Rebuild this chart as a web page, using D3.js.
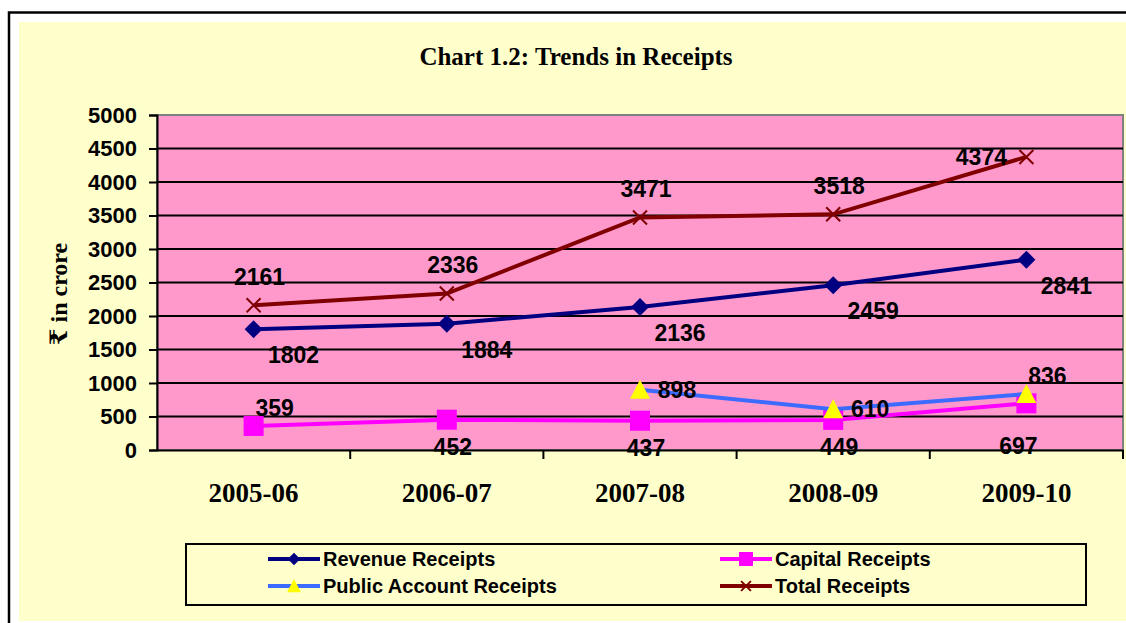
<!DOCTYPE html>
<html>
<head>
<meta charset="utf-8">
<script src="https://cdn.jsdelivr.net/npm/d3@7"></script>
<style>
    body { margin: 0; background: #ffffff; }
    svg { display: block; }
</style>
</head>
<body>
<div id="chart"></div>
<script>
// Chart data
const years = ["2005-06", "2006-07", "2007-08", "2008-09", "2009-10"];
const revenueReceipts = [1802, 1884, 2136, 2459, 2841];
const capitalReceipts = [359, 452, 437, 449, 697];
const publicAccountReceipts = [null, null, 898, 610, 836];
const totalReceipts = [2161, 2336, 3471, 3518, 4374];
const yTicks = [0, 500, 1000, 1500, 2000, 2500, 3000, 3500, 4000, 4500, 5000];

// where each data label sits relative to its point
const revenueLabelPos = ["belowRight", "belowRight", "belowRight", "belowRight", "belowRight"];
const capitalLabelPos = ["aboveRight", "below", "below", "below", "belowFar"];
const publicLabelPos = [null, null, "right", "right", "aboveRight"];
const totalLabelPos = ["above", "above", "above", "above", "left"];

const labelOffsets = {
    belowRight: [40, 26],
    aboveRight: [21, -18],
    right: [37, 0],
    above: [6, -28],
    below: [6, 27],
    belowFar: [-8, 43],
    left: [-45, 0]
};

const series = [
    { name: "Revenue Receipts", values: revenueReceipts, color: "#000080", marker: "diamond", labels: revenueLabelPos },
    { name: "Capital Receipts", values: capitalReceipts, color: "#FF00FF", marker: "square", labels: capitalLabelPos },
    { name: "Public Account Receipts", values: publicAccountReceipts, color: "#3D6BFF", marker: "triangle", labels: publicLabelPos },
    { name: "Total Receipts", values: totalReceipts, color: "#800000", marker: "cross", labels: totalLabelPos }
];

const width = 1126, height = 623;
const plot = { left: 157, top: 115, right: 1123, bottom: 450 };

const svg = d3.select("#chart").append("svg")
    .attr("width", width)
    .attr("height", height);

// outer frame and chart area
svg.append("rect")
    .attr("x", 9).attr("y", 12.5)
    .attr("width", width + 20).attr("height", height + 20)
    .attr("fill", "none").attr("stroke", "#000").attr("stroke-width", 2.5);
svg.append("rect")
    .attr("x", 19).attr("y", 22)
    .attr("width", width).attr("height", 599)
    .attr("fill", "#FFFFCC");

// title
svg.append("text")
    .attr("x", 576).attr("y", 65)
    .attr("text-anchor", "middle")
    .style("font-family", "'Liberation Serif', 'Times New Roman', serif")
    .style("font-weight", "bold")
    .style("font-size", "25px")
    .text("Chart 1.2: Trends in Receipts");

// Scales
const x = d3.scaleBand()
    .domain(years)
    .range([plot.left, plot.right]);

const y = d3.scaleLinear()
    .domain([0, 5000])
    .range([plot.bottom, plot.top]);

// plot background
svg.append("rect")
    .attr("x", plot.left).attr("y", plot.top)
    .attr("width", plot.right - plot.left).attr("height", plot.bottom - plot.top)
    .attr("fill", "#FF99CC")
    .attr("stroke", "#808080").attr("stroke-width", 2);

// gridlines
svg.append("g")
    .selectAll("line")
    .data(yTicks.filter(d => d > 0 && d < 5000))
    .enter()
    .append("line")
    .attr("x1", plot.left).attr("x2", plot.right)
    .attr("y1", d => y(d)).attr("y2", d => y(d))
    .attr("stroke", "#000").attr("stroke-width", 2);

// Y axis
const yAxis = svg.append("g")
    .attr("transform", `translate(${plot.left},0)`)
    .call(d3.axisLeft(y).tickValues(yTicks).tickSize(8).tickPadding(12).tickFormat(d3.format("d")));
yAxis.select(".domain").attr("stroke", "#000").attr("stroke-width", 2);
yAxis.selectAll(".tick line").attr("stroke", "#000").attr("stroke-width", 2);
yAxis.selectAll("text")
    .attr("fill", "#000")
    .style("font-family", "'Liberation Sans', Arial, sans-serif")
    .style("font-weight", "bold")
    .style("font-size", "22px");

// X axis
const xAxis = svg.append("g")
    .attr("transform", `translate(0,${plot.bottom})`)
    .call(d3.axisBottom(x).tickSize(0).tickPadding(33));
xAxis.select(".domain").attr("stroke", "#000").attr("stroke-width", 2);
xAxis.selectAll("text")
    .attr("fill", "#000")
    .style("font-family", "'Liberation Serif', 'Times New Roman', serif")
    .style("font-weight", "bold")
    .style("font-size", "27px");

// x tick marks on band edges
svg.append("g")
    .selectAll("line")
    .data(years)
    .enter()
    .append("line")
    .attr("x1", d => x(d) + x.bandwidth()).attr("x2", d => x(d) + x.bandwidth())
    .attr("y1", plot.bottom).attr("y2", plot.bottom + 9)
    .attr("stroke", "#000").attr("stroke-width", 2);

// Y axis title
svg.append("text")
    .attr("transform", "translate(67,294) rotate(-90)")
    .attr("text-anchor", "middle")
    .style("font-family", "'Liberation Serif', 'DejaVu Serif', serif")
    .style("font-weight", "bold")
    .style("font-size", "24px")
    .text("₹ in crore");

const cx = d => x(d) + x.bandwidth() / 2;

function drawMarker(g, type, color, scale) {
    const s = scale || 1;
    if (type === "diamond") {
        g.append("path")
            .attr("d", `M0,${-9 * s}L${9 * s},0L0,${9 * s}L${-9 * s},0Z`)
            .attr("fill", color);
    } else if (type === "square") {
        g.append("rect")
            .attr("x", -10 * s).attr("y", -10 * s)
            .attr("width", 20 * s).attr("height", 20 * s)
            .attr("fill", color);
    } else if (type === "triangle") {
        g.append("path")
            .attr("d", `M0,${-10 * s}L${10 * s},${9 * s}L${-10 * s},${9 * s}Z`)
            .attr("fill", "#FFFF00");
    } else if (type === "cross") {
        g.append("path")
            .attr("d", `M${-7 * s},${-7 * s}L${7 * s},${7 * s}M${7 * s},${-7 * s}L${-7 * s},${7 * s}`)
            .attr("stroke", color).attr("stroke-width", 2);
    }
}

const line = d3.line()
    .defined(d => d.v !== null)
    .x(d => cx(d.year))
    .y(d => y(d.v));

series.forEach(s => {
    const pts = years.map((yr, i) => ({ year: yr, v: s.values[i], pos: s.labels[i] }));

    svg.append("path")
        .datum(pts)
        .attr("d", line)
        .attr("fill", "none")
        .attr("stroke", s.color)
        .attr("stroke-width", 4);

    pts.filter(p => p.v !== null).forEach(p => {
        const g = svg.append("g").attr("transform", `translate(${cx(p.year)},${y(p.v)})`);
        drawMarker(g, s.marker, s.color);
    });
});

// data labels drawn on top
series.forEach(s => {
    const pts = years.map((yr, i) => ({ year: yr, v: s.values[i], pos: s.labels[i] }))
        .filter(p => p.v !== null);
    svg.append("g")
        .selectAll("text")
        .data(pts)
        .enter()
        .append("text")
        .attr("x", p => cx(p.year) + labelOffsets[p.pos][0])
        .attr("y", p => y(p.v) + labelOffsets[p.pos][1])
        .attr("text-anchor", "middle")
        .attr("dominant-baseline", "central")
        .style("font-family", "'Liberation Sans', Arial, sans-serif")
        .style("font-weight", "bold")
        .style("font-size", "23px")
        .text(p => p.v);
});

// Legend
const legend = svg.append("g");
legend.append("rect")
    .attr("x", 186).attr("y", 544)
    .attr("width", 900).attr("height", 61)
    .attr("fill", "#FFFFCC")
    .attr("stroke", "#000").attr("stroke-width", 2);

const legendCols = [268, 720];
const legendRows = [559, 586];
series.forEach((s, i) => {
    const lx = legendCols[i % 2];
    const ly = legendRows[Math.floor(i / 2)];
    legend.append("line")
        .attr("x1", lx).attr("x2", lx + 52)
        .attr("y1", ly).attr("y2", ly)
        .attr("stroke", s.color).attr("stroke-width", 4);
    const g = legend.append("g").attr("transform", `translate(${lx + 26},${ly})`);
    drawMarker(g, s.marker, s.color, 0.7);
    legend.append("text")
        .attr("x", lx + 55).attr("y", ly)
        .attr("dominant-baseline", "central")
        .style("font-family", "'Liberation Sans', Arial, sans-serif")
        .style("font-weight", "bold")
        .style("font-size", "20px")
        .text(s.name);
});
</script>
</body>
</html>
